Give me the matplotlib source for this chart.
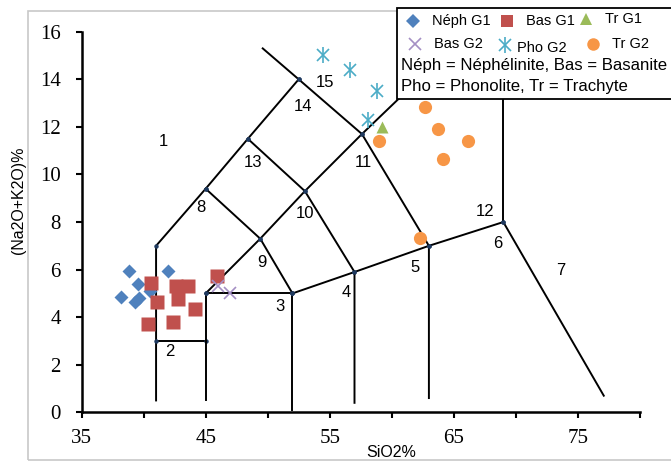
import matplotlib
matplotlib.use("Agg")
import matplotlib.pyplot as plt
from matplotlib.patches import Rectangle
from matplotlib.lines import Line2D

plt.rcParams['font.family'] = ['Liberation Sans', 'DejaVu Sans']

# TAS field boundaries (SiO2, Na2O+K2O)
boundaries = [
    [(41, 0.5), (41, 7), (45, 9.4), (48.4, 11.5), (52.5, 14), (49.6, 15.3)],
    [(41, 3), (45, 3)],
    [(45, 0.5), (45, 5), (52, 5), (52, 0.1)],
    [(45, 5), (49.4, 7.3), (53, 9.3), (57.6, 11.7), (60.6, 13.2)],
    [(52, 5), (57, 5.9), (63, 7), (69, 8), (77.1, 0.7)],
    [(69, 8), (69, 13.5)],
    [(57, 0.4), (57, 5.9), (53, 9.3), (48.4, 11.5)],
    [(63, 0.6), (63, 7), (57.6, 11.7), (52.5, 14)],
    [(45, 9.4), (49.4, 7.3), (52, 5)],
]
# loose line ends (no vertex dot drawn there)
free_ends = [(49.6, 15.3), (60.6, 13.2), (69, 13.5), (77.1, 0.7)]

field_nums = ['1', '2', '3', '4', '5', '6', '7', '8', '9', '10', '11', '12', '13', '14', '15']
field_x = [41.6, 42.1, 51.0, 56.3, 61.9, 68.55, 73.6, 44.65, 49.5, 53.0, 57.7, 67.5, 48.8, 52.85, 54.65]
field_y = [11.4, 2.55, 4.45, 5.05, 6.1, 7.1, 5.95, 8.6, 6.3, 8.35, 10.5, 8.45, 10.5, 12.85, 13.85]

neph_g1_x = [38.85, 42.0, 39.55, 38.15, 39.3, 39.6, 40.5]
neph_g1_y = [5.95, 5.95, 5.4, 4.85, 4.65, 4.8, 5.1]
bas_g1_x = [40.6, 41.1, 40.35, 42.4, 42.6, 43.6, 42.75, 44.15, 45.95]
bas_g1_y = [5.43, 4.63, 3.73, 3.79, 5.33, 5.33, 4.77, 4.35, 5.75]
bas_g2_x = [46.0, 46.95]
bas_g2_y = [5.3, 5.0]
pho_g2_x = [54.5, 56.65, 58.8, 58.05]
pho_g2_y = [15.02, 14.4, 13.5, 12.3]
tr_g1_x = [59.25]
tr_g1_y = [12.0]
tr_g2_x = [58.95, 62.7, 63.7, 64.15, 66.15, 62.25]
tr_g2_y = [11.4, 12.82, 11.92, 10.63, 11.4, 7.32]

c_neph = '#4f81bd'
c_bas1 = '#c0504d'
c_tr1 = '#9bbb59'
c_bas2 = '#a48fc4'
c_pho = '#4bacc6'
c_tr2 = '#f79646'

fig = plt.figure(figsize=(6.71, 4.62), dpi=100)
ax = fig.add_axes([0.1217, 0.1075, 0.8317, 0.8238])

for seg in boundaries:
    xs = [p[0] for p in seg]
    ys = [p[1] for p in seg]
    marks = [i for i, p in enumerate(seg) if p[1] > 1 and p not in free_ends]
    ax.plot(xs, ys, color='black', lw=1.4, marker='o', ms=2.2, markevery=marks,
            mfc='#1f3a60', mec='#1f3a60', zorder=2)

for t, x, y in zip(field_nums, field_x, field_y):
    ax.text(x, y, t, ha='center', va='center', fontsize=12, zorder=3)

ax.plot(neph_g1_x, neph_g1_y, 'D', color=c_neph, ms=7, mec='none', zorder=4)
ax.plot(bas_g1_x, bas_g1_y, 's', color=c_bas1, ms=9.5, mec='none', zorder=5)
ax.plot(bas_g2_x, bas_g2_y, 'x', color=c_bas2, ms=9, mew=1.2, zorder=5)
ax.plot(pho_g2_x, pho_g2_y, 'x', color=c_pho, ms=9, mew=1.2, zorder=5)
ax.plot(pho_g2_x, pho_g2_y, '|', color=c_pho, ms=11, mew=1.2, zorder=5)
ax.plot(tr_g1_x, tr_g1_y, '^', color=c_tr1, ms=9, mec='none', zorder=5)
ax.plot(tr_g2_x, tr_g2_y, 'o', color=c_tr2, ms=9.5, mec='none', zorder=5)

ax.set_xlim(35, 80)
ax.set_ylim(0, 16)
ax.set_xticks(range(35, 81, 5))
ax.set_xticklabels(['35', '', '45', '', '55', '', '65', '', '75', ''])
ax.set_yticks(range(0, 17, 2))
for s in ['top', 'right']:
    ax.spines[s].set_visible(False)
for s in ['left', 'bottom']:
    ax.spines[s].set_linewidth(1.8)
ax.tick_params(direction='out', length=4, width=1.5, labelsize=15)
ax.tick_params(axis='x', pad=8)
ax.tick_params(axis='y', pad=11)
for lab in ax.get_xticklabels() + ax.get_yticklabels():
    lab.set_family('Liberation Serif')

fig.text(0.583, 0.004, 'SiO2%', ha='center', va='bottom', fontsize=11.5)
fig.text(0.027, 0.567, '(Na2O+K2O)%', ha='center', va='center', rotation=90, fontsize=11.5)

# chart area border
fig.add_artist(Rectangle((0.0417, 0.004), 1.0, 0.972, transform=fig.transFigure,
                         fill=False, ec='#c8c8c8', lw=1.2, zorder=0))

# legend box
fig.add_artist(Rectangle((0.5917, 0.7857), 0.5, 0.197, transform=fig.transFigure,
                         fc='white', ec='black', lw=1.3, zorder=10))

H = 462.0
W = 671.0
keys = [
    ('D', c_neph, 7, 'Néph G1', 413, 21),
    ('s', c_bas1, 9, 'Bas G1', 507, 21),
    ('^', c_tr1, 9, 'Tr G1', 586, 19),
    ('x', c_bas2, 9, 'Bas G2', 415, 44),
    ('x', c_pho, 9, 'Pho G2', 505, 45),
    ('o', c_tr2, 9, 'Tr G2', 593, 44),
]
for m, c, s, lab, px, py in keys:
    fig.add_artist(Line2D([px / W], [1 - py / H], marker=m, color=c, ms=s,
                          mec=c if m == 'x' else 'none', mew=1.2,
                          transform=fig.transFigure, zorder=11))
    if lab == 'Pho G2':
        fig.add_artist(Line2D([px / W], [1 - py / H], marker='|', color=c, ms=11, mew=1.2,
                              transform=fig.transFigure, zorder=11))
    off = 12 if lab == 'Pho G2' else 19
    yy = py + 3 if lab == 'Pho G2' else py
    fig.text((px + off) / W, 1 - yy / H, lab, ha='left', va='center', fontsize=10.5, zorder=12)

fig.text(401 / W, 1 - 66 / H, 'Néph = Néphélinite, Bas = Basanite', ha='left', va='center',
         fontsize=12.1, zorder=12)
fig.text(401 / W, 1 - 86 / H, 'Pho = Phonolite, Tr = Trachyte', ha='left', va='center',
         fontsize=12.1, zorder=12)

fig.savefig('out.png', dpi=100)
